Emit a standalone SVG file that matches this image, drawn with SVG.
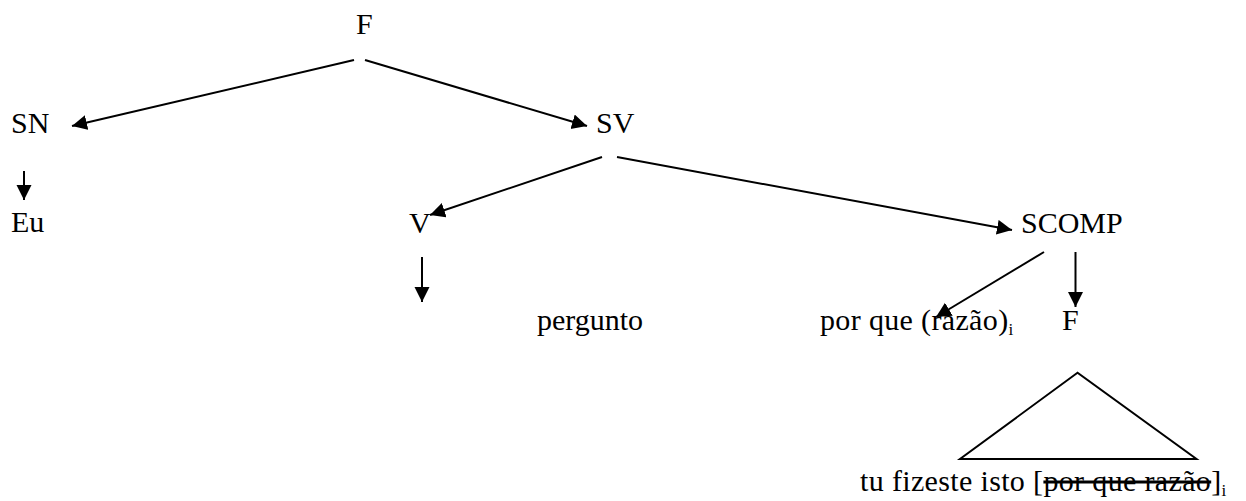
<svg xmlns="http://www.w3.org/2000/svg" width="1246" height="501" viewBox="0 0 1246 501">
<style>
text{font-family:"Liberation Serif","Times New Roman",serif;font-size:30px;fill:#000}
.sub{font-size:17px;letter-spacing:0}
.wide{letter-spacing:0.35px}
.edge{stroke:#000;stroke-width:2;fill:none;marker-end:url(#arr)}
.strike{text-decoration:line-through}
</style>
<defs>
<marker id="arr" markerUnits="userSpaceOnUse" markerWidth="16" markerHeight="16" refX="15" refY="7.5" orient="auto">
<path d="M0,0 L15,7.5 L0,15 Z" fill="#000"/>
</marker>
</defs>
<rect width="1246" height="501" fill="#fff"/>
<g id="connectors">
<line class="edge" x1="354" y1="60" x2="72" y2="126"/>
<line class="edge" x1="365" y1="60" x2="587" y2="126"/>
<line class="edge" x1="24" y1="171" x2="24" y2="200"/>
<line class="edge" x1="602" y1="157" x2="430" y2="215"/>
<line class="edge" x1="617" y1="157" x2="1012" y2="230"/>
<line class="edge" x1="422" y1="257" x2="422" y2="302"/>
<line class="edge" x1="1044" y1="252" x2="936" y2="317"/>
<line class="edge" x1="1075.5" y1="252" x2="1075.5" y2="307"/>
</g>
<g id="n-F"><text x="356" y="34">F</text></g>
<g id="n-SN"><text x="11" y="133">SN</text></g>
<g id="n-SV"><text x="596" y="133">SV</text></g>
<g id="n-Eu"><text x="11" y="232">Eu</text></g>
<g id="n-V"><text x="409" y="233">V</text></g>
<g id="n-SCOMP"><text x="1021" y="233">SCOMP</text></g>
<g id="n-pergunto"><text x="537" y="330">pergunto</text></g>
<g id="n-porque"><text class="wide" x="820" y="330">por que (razão)<tspan class="sub" dy="5">i</tspan></text></g>
<g id="n-F2"><text x="1062" y="330">F</text></g>
<g id="n-tri">
<polygon points="1077.5,372.7 960,459 1196.5,459" fill="none" stroke="#000" stroke-width="2"/>
<text class="wide" x="860" y="491">tu fizeste isto [<tspan class="strike">por que razão</tspan>]<tspan class="sub" dy="5">i</tspan></text>
</g>
</svg>
